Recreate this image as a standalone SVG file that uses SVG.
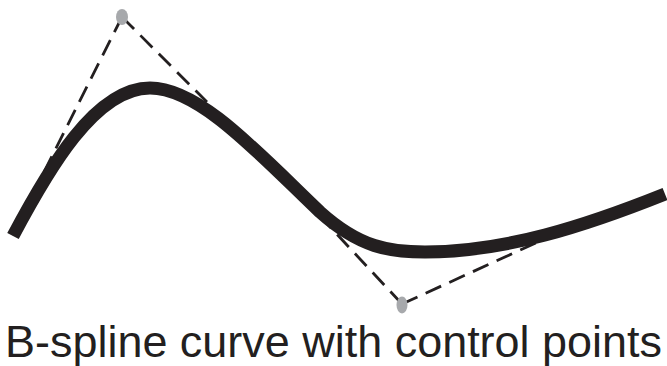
<svg xmlns="http://www.w3.org/2000/svg" width="667" height="366" viewBox="0 0 667 366">
<style>
.dash{fill:none;stroke:#231f20;stroke-width:2.8;stroke-dasharray:17 9}
.cp{fill:#a7a9ac}
.curve{fill:none;stroke:#231f20;stroke-width:13;stroke-linecap:butt}
.label{font-family:"Liberation Sans",Arial,sans-serif;font-size:44px;fill:#231f20}
</style>
<g id="connectors">
<path class="dash" d="M122,17 L44,172"/>
<path class="dash" d="M122,17 L207,102"/>
<path class="dash" d="M402,304 L318,214"/>
<path class="dash" d="M402,304 L540,241"/>
</g>
<g id="curve">
<path class="curve" d="M13,236 C48,170 95,88 150,88 C200,88 260,155 320,212 C360,248 390,252 425,252 C505,252 585,226 665,194"/>
</g>
<g id="cp1"><ellipse class="cp" cx="122" cy="17" rx="6" ry="8"/></g>
<g id="cp2"><ellipse class="cp" cx="402" cy="305" rx="5.5" ry="8.5"/></g>
<g id="caption">
<text class="label" x="5" y="357" textLength="657" lengthAdjust="spacingAndGlyphs">B-spline curve with control points</text>
</g>
</svg>
